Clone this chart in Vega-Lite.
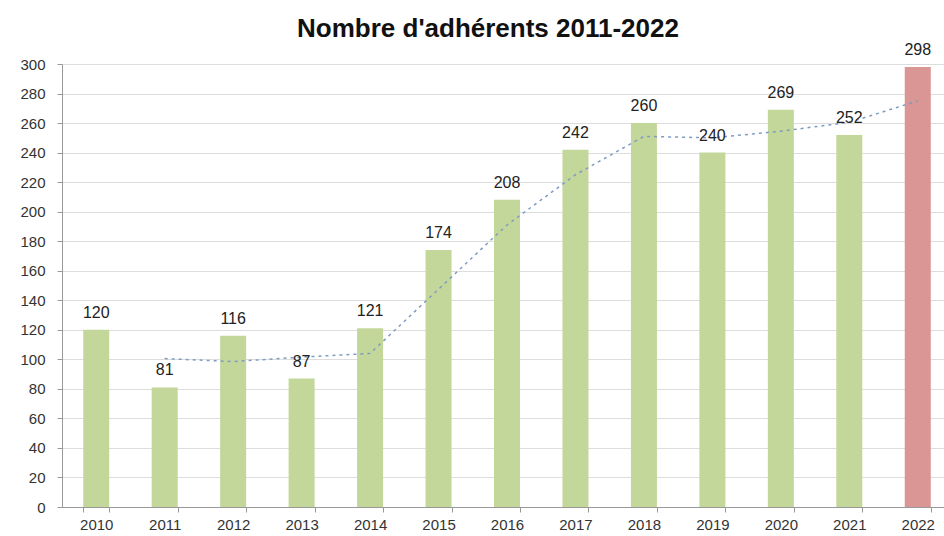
{
  "$schema": "https://vega.github.io/schema/vega-lite/v6.json",
  "autosize": {"type": "none"},
  "width": 882,
  "height": 443,
  "padding": {"left": 62, "top": 64, "right": 0, "bottom": 29},
  "background": "white",
  "config": {"view": {"stroke": null}, "font": "Liberation Sans"},
  "title": {
    "text": "Nombre d'adhérents 2011-2022",
    "font": "Liberation Sans",
    "fontSize": 26,
    "fontWeight": "bold",
    "color": "#111111",
    "anchor": "middle",
    "offset": 8,
    "dx": -15,
    "dy": 8
  },
  "datasets": {
    "bars": [
      {"annee": "2010", "adherents": 120, "type": "passe"},
      {"annee": "2011", "adherents": 81, "type": "passe"},
      {"annee": "2012", "adherents": 116, "type": "passe"},
      {"annee": "2013", "adherents": 87, "type": "passe"},
      {"annee": "2014", "adherents": 121, "type": "passe"},
      {"annee": "2015", "adherents": 174, "type": "passe"},
      {"annee": "2016", "adherents": 208, "type": "passe"},
      {"annee": "2017", "adherents": 242, "type": "passe"},
      {"annee": "2018", "adherents": 260, "type": "passe"},
      {"annee": "2019", "adherents": 240, "type": "passe"},
      {"annee": "2020", "adherents": 269, "type": "passe"},
      {"annee": "2021", "adherents": 252, "type": "passe"},
      {"annee": "2022", "adherents": 298, "type": "actuel"}
    ],
    "tendance": [
      {"annee": "2011", "moyenne": 100.5},
      {"annee": "2012", "moyenne": 98.5},
      {"annee": "2013", "moyenne": 101.5},
      {"annee": "2014", "moyenne": 104},
      {"annee": "2015", "moyenne": 147.5},
      {"annee": "2016", "moyenne": 191},
      {"annee": "2017", "moyenne": 225},
      {"annee": "2018", "moyenne": 251},
      {"annee": "2019", "moyenne": 250},
      {"annee": "2020", "moyenne": 254.5},
      {"annee": "2021", "moyenne": 260.5},
      {"annee": "2022", "moyenne": 275}
    ]
  },
  "resolve": {"scale": {"y": "shared"}, "axis": {"y": "shared"}},
  "layer": [
    {
      "data": {"name": "bars"},
      "mark": {"type": "bar"},
      "encoding": {
        "x": {
          "field": "annee", "type": "nominal", "sort": null,
          "scale": {"paddingInner": 0.62, "paddingOuter": 0.31, "range": [0, 890]},
          "axis": {
            "title": null, "labelAngle": 0, "labelFontSize": 15, "labelColor": "#333333",
            "domainColor": "#999999", "tickColor": "#999999", "tickBand": "extent", "tickSize": 5,
            "labelPadding": 5
          }
        },
        "y": {
          "field": "adherents", "type": "quantitative",
          "scale": {"domain": [0, 300], "nice": false},
          "axis": {
            "title": null, "values": [0,20,40,60,80,100,120,140,160,180,200,220,240,260,280,300],
            "tickCount": 16, "labelOverlap": false, "labelBound": false,
            "labelFontSize": 15, "labelColor": "#333333", "domainColor": "#999999",
            "tickColor": "#999999", "tickSize": 5, "gridColor": "#dddddd", "labelPadding": 12
          }
        },
        "color": {
          "field": "type", "type": "nominal",
          "scale": {"domain": ["passe", "actuel"], "range": ["#C4D79B", "#D99694"]},
          "legend": null
        }
      }
    },
    {
      "data": {"name": "tendance"},
      "mark": {"type": "line", "stroke": "#7F9CC0", "strokeWidth": 1.5, "strokeDash": [3, 4]},
      "encoding": {
        "x": {"field": "annee", "type": "nominal", "sort": null},
        "y": {
          "field": "moyenne", "type": "quantitative",
          "axis": {
            "title": null, "values": [0,20,40,60,80,100,120,140,160,180,200,220,240,260,280,300],
            "tickCount": 16, "labelOverlap": false, "labelBound": false,
            "labelFontSize": 15, "labelColor": "#333333", "domainColor": "#999999",
            "tickColor": "#999999", "tickSize": 5, "gridColor": "#dddddd", "labelPadding": 12
          }
        }
      }
    },
    {
      "data": {"name": "bars"},
      "mark": {"type": "text", "dy": -17, "fontSize": 16, "color": "#222222", "font": "Liberation Sans"},
      "encoding": {
        "x": {"field": "annee", "type": "nominal", "sort": null},
        "y": {
          "field": "adherents", "type": "quantitative",
          "axis": {
            "title": null, "values": [0,20,40,60,80,100,120,140,160,180,200,220,240,260,280,300],
            "tickCount": 16, "labelOverlap": false, "labelBound": false,
            "labelFontSize": 15, "labelColor": "#333333", "domainColor": "#999999",
            "tickColor": "#999999", "tickSize": 5, "gridColor": "#dddddd", "labelPadding": 12
          }
        },
        "text": {"field": "adherents", "type": "quantitative"}
      }
    }
  ]
}
